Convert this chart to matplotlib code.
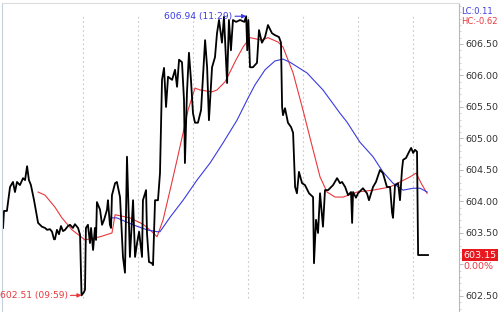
import numpy as np
import matplotlib
matplotlib.use("Agg")
import matplotlib.pyplot as plt
from matplotlib.ticker import MultipleLocator, FixedLocator

# minutes after 09:15, price
price_t = [1.4, 1.9, 3.5, 5.2, 6.8, 7.9, 9.0, 10.6, 12.3, 13.4, 14.5, 15.5, 16.6, 18.3,
           20.5, 22.6, 24.3, 25.4, 27.0, 28.1, 29.2, 29.7, 30.8, 31.9, 33.0, 34.1, 35.2,
           36.8, 37.9, 39.5, 40.6, 42.3, 43.4, 43.9, 44.2, 45.5, 46.1, 46.6, 47.7, 48.8,
           49.4, 50.5, 51.5, 52.1, 52.6, 54.3, 55.4, 56.5, 58.1, 58.6, 59.7, 60.3, 60.8,
           62.5, 63.5, 65.2, 66.8, 67.9, 69.0, 70.6, 72.3, 73.4, 74.5, 75.6, 77.2, 77.7,
           79.4, 79.9, 81.0, 82.6, 83.2, 84.3, 85.9, 87.0, 88.1, 89.2, 90.3, 91.4, 93.6,
           95.2, 96.3, 97.4, 99.0, 100.1, 100.6, 101.7, 102.8, 103.9, 105.0, 106.1, 107.7,
           109.4, 111.6, 112.7, 113.7, 115.4, 117.0, 118.1, 119.2, 120.8, 121.9, 123.6,
           124.6, 125.7, 126.8, 128.5, 130.7, 133.0, 134.0, 134.6, 135.2, 136.1, 137.7,
           139.9, 141.0, 142.6, 144.3, 145.9, 148.1, 149.7, 151.9, 153.0, 153.6, 154.1,
           155.2, 156.8, 158.5, 159.6, 160.7, 161.7, 162.8, 164.5, 166.1, 168.3, 170.5,
           171.0, 172.1, 173.2, 174.3, 175.9, 177.0, 178.7, 181.4, 183.6, 185.2, 186.3,
           188.0, 189.6, 191.2, 191.8, 192.3, 193.9, 195.0, 197.7, 199.9, 201.0, 203.2,
           204.8, 207.0, 208.6, 210.8, 212.5, 213.6, 214.1, 215.2, 216.9, 217.9, 219.0,
           219.6, 221.2, 222.9, 224.0, 225.1, 226.1, 227.2, 227.8, 233.2]
price = [603.58, 603.85, 603.85, 604.23, 604.31, 604.15, 604.31, 604.26, 604.37, 604.34,
         604.56, 604.34, 604.26, 604.02, 603.66, 603.60, 603.58, 603.55, 603.56, 603.52,
         603.40, 603.40, 603.55, 603.48, 603.61, 603.53, 603.55, 603.61, 603.63, 603.58,
         603.64, 603.58, 603.47, 602.91, 602.51, 602.56, 602.60, 603.58, 603.63, 603.34,
         603.58, 603.23, 603.58, 603.39, 603.99, 603.87, 603.63, 603.71, 603.87, 604.02,
         603.63, 603.58, 604.10, 604.29, 604.31, 604.07, 603.12, 602.87, 604.71, 603.12,
         604.02, 603.12, 603.34, 603.52, 603.12, 604.02, 604.18, 603.50, 603.04, 603.02,
         602.99, 604.02, 604.02, 604.45, 605.93, 606.12, 605.50, 605.98, 605.93, 606.09,
         605.82, 606.25, 606.21, 605.61, 604.61, 605.72, 606.36, 605.93, 605.40, 605.25,
         605.25, 605.45, 606.56, 606.13, 605.29, 606.13, 606.29, 606.67, 606.88, 606.52,
         606.93, 605.88, 606.88, 606.40, 606.88, 606.85, 606.88, 606.85, 606.94, 606.40,
         606.88, 606.13, 606.13, 606.20, 606.72, 606.52, 606.61, 606.80, 606.67, 606.64,
         606.61, 606.52, 605.50, 605.37, 605.48, 605.25, 605.18, 605.09, 604.23, 604.13,
         604.47, 604.29, 604.26, 604.13, 604.07, 603.02, 603.71, 603.50, 604.13, 603.60,
         604.18, 604.18, 604.26, 604.37, 604.29, 604.31, 604.23, 604.10, 604.15, 603.66,
         604.15, 604.06, 604.13, 604.21, 604.13, 604.02, 604.23, 604.31, 604.50, 604.45,
         604.23, 604.23, 603.82, 603.74, 604.26, 604.29, 604.02, 604.50, 604.66, 604.69,
         604.79, 604.85, 604.77, 604.82, 604.79, 603.15, 603.15]

fast_t = [20.5, 24.3, 29.7, 33.5, 39.0, 46.1, 54.3, 60.8, 62.5, 70.6, 77.7, 82.6, 85.4,
          88.7, 92.5, 96.3, 99.6, 102.3, 106.1, 108.8, 115.4, 118.1, 122.5, 126.3, 128.5,
          132.3, 136.1, 142.6, 145.9, 151.4, 154.1, 159.6, 165.0, 170.5, 174.3, 178.1,
          182.5, 186.9, 194.5, 203.2, 212.5, 217.9, 223.4, 226.7, 230.0, 232.7]
fast_ma = [604.15, 604.10, 603.91, 603.74, 603.55, 603.39, 603.44, 603.50, 603.79, 603.74,
           603.64, 603.52, 603.44, 603.71, 604.18, 604.66, 605.09, 605.45, 605.80, 605.77,
           605.74, 605.77, 605.90, 606.12, 606.25, 606.45, 606.60, 606.56, 606.60, 606.53,
           606.45, 606.04, 605.45, 604.82, 604.39, 604.15, 604.07, 604.07, 604.15, 604.18,
           604.23, 604.31, 604.39, 604.45, 604.26, 604.13]

slow_t = [60.8, 63.5, 72.3, 79.9, 85.4, 87.0, 92.5, 99.6, 107.2, 114.3, 121.4, 129.0,
          135.0, 138.8, 144.3, 149.7, 154.1, 157.9, 167.2, 175.9, 185.2, 189.0, 196.1,
          203.2, 208.6, 214.1, 219.6, 225.1, 228.9, 232.7]
slow_ma = [603.74, 603.74, 603.63, 603.55, 603.52, 603.52, 603.75, 604.02, 604.34, 604.61,
           604.93, 605.29, 605.64, 605.85, 606.09, 606.23, 606.26, 606.21, 606.04, 605.77,
           605.40, 605.26, 604.94, 604.71, 604.47, 604.29, 604.18, 604.21, 604.21, 604.15]

grid_t = [45, 75, 105, 135, 165, 195, 225]
tick_vals = [602.5, 603.0, 603.5, 604.0, 604.5, 605.0, 605.5, 606.0, 606.5]

high_t, high_p, high_lbl = 134.0, 606.94, "606.94 (11:29)"
low_t, low_p, low_lbl = 44.2, 602.51, "602.51 (09:59)"
last_p = 603.15
change = "0.00%"
lc, hc = "LC:0.11", "HC:-0.62"

RED = "#e8383d"
BLUE = "#3a3ae0"

fig = plt.figure(figsize=(5, 3.12), dpi=100)
ax = fig.add_axes([2 / 500, 0, 457 / 500, 309 / 312])
ax.set_xlim(0.82, 250.1)
ax.set_ylim(602.246, 607.15)

for g in grid_t:
    ax.axvline(g, ymin=0.045, ymax=0.961, color="#c8c8c8", lw=0.8, ls=(0, (1.5, 2.5)))

ax.plot(fast_t, fast_ma, color=RED, lw=0.8)
ax.plot(slow_t, slow_ma, color=BLUE, lw=0.8)
ax.plot(price_t, price, color="black", lw=1.3)

ax.annotate(high_lbl, xy=(high_t, high_p), xytext=(-10, 0), textcoords="offset points",
            ha="right", va="center", fontsize=6.6, color=BLUE,
            arrowprops=dict(arrowstyle="-|>", color=BLUE, lw=0.8, mutation_scale=6,
                            shrinkA=0, shrinkB=0))
ax.annotate(low_lbl, xy=(low_t, low_p), xytext=(-10, 0), textcoords="offset points",
            ha="right", va="center", fontsize=6.6, color=RED,
            arrowprops=dict(arrowstyle="-|>", color=RED, lw=0.8, mutation_scale=6,
                            shrinkA=0, shrinkB=0), annotation_clip=False)

# right price axis
ax.yaxis.tick_right()
ax.yaxis.set_major_locator(FixedLocator(tick_vals))
ax.yaxis.set_minor_locator(MultipleLocator(0.1))
ax.set_yticklabels(["" if v == 603.0 else f"{v:.2f}" for v in tick_vals])
ax.tick_params(axis="y", which="major", length=3, width=0.6, color="#b0b0b0",
               labelsize=6.8, labelcolor="#333333", pad=1.5)
ax.tick_params(axis="y", which="minor", length=1.5, width=0.5, color="#c0c0c0")
ax.set_xticks([])

ax.spines["bottom"].set_visible(False)
ax.spines["right"].set_color("#b8b8b8")
ax.spines["right"].set_linewidth(0.8)
ax.spines["top"].set_color("#dcdcdc")
ax.spines["top"].set_linewidth(0.8)
ax.spines["left"].set_color("#c4d0e0")
ax.spines["left"].set_linewidth(0.8)

# side labels
fig.text(461 / 500, 1 - 11 / 312, lc, color=BLUE, fontsize=6.0, va="center", ha="left")
fig.text(461 / 500, 1 - 22 / 312, hc, color=RED, fontsize=6.0, va="center", ha="left")
ax.annotate(f"{last_p:.2f}", xy=(1, last_p), xycoords=("axes fraction", "data"),
            xytext=(3, 0), textcoords="offset points", ha="left", va="center",
            fontsize=6.8, color="white",
            bbox=dict(boxstyle="square,pad=0.15", fc="#e8191e", ec="none"))
ax.annotate(change, xy=(1, last_p), xycoords=("axes fraction", "data"),
            xytext=(3, -8), textcoords="offset points", ha="left", va="center",
            fontsize=6.8, color=RED)

fig.savefig("out.png", dpi=100)
